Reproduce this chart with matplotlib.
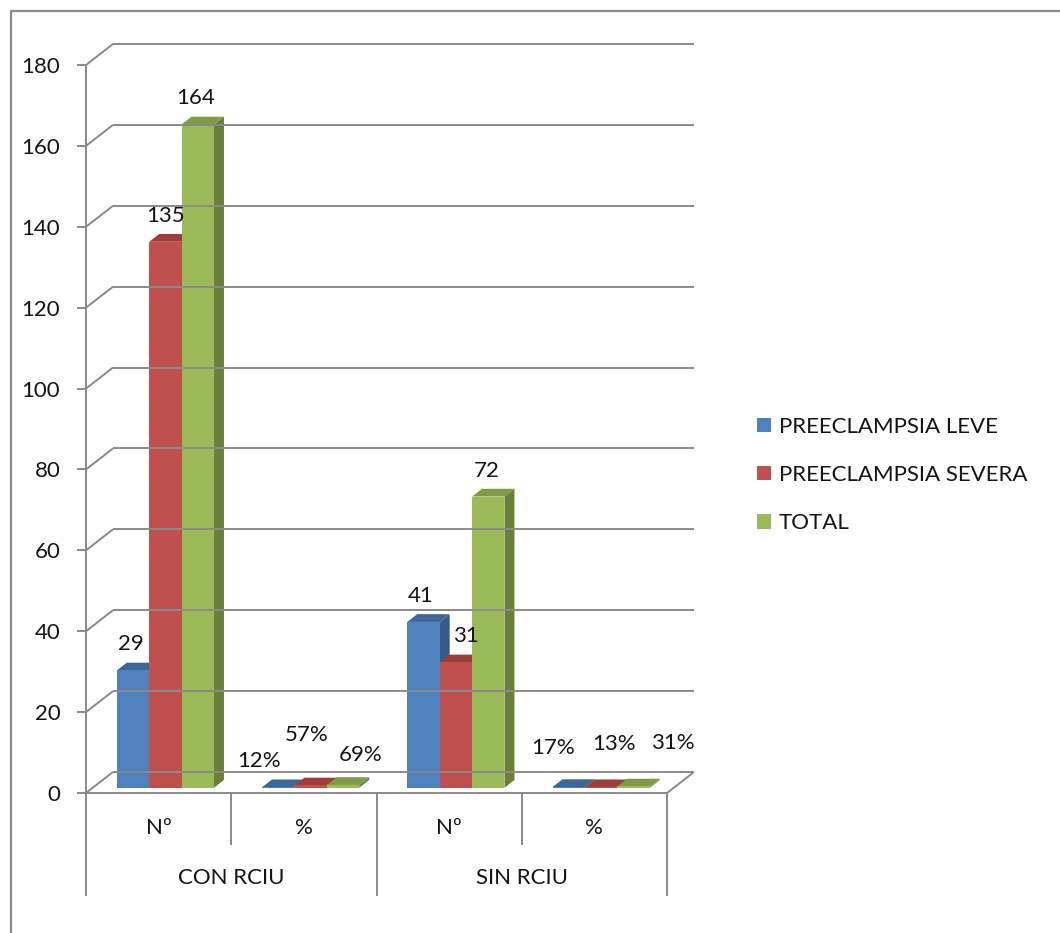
import matplotlib
matplotlib.use("Agg")
import matplotlib.pyplot as plt
from matplotlib.patches import Polygon, Patch
from matplotlib.lines import Line2D

# ---- data -------------------------------------------------------------
groups = ["CON RCIU", "SIN RCIU"]
measures = ["Nº", "%"]
series_names = ["PREECLAMPSIA LEVE", "PREECLAMPSIA SEVERA", "TOTAL"]
leve = [29, 0.12, 41, 0.17]
severa = [135, 0.57, 31, 0.13]
total = [164, 0.69, 72, 0.31]
y_ticks = [0, 20, 40, 60, 80, 100, 120, 140, 160, 180]

# ---- style ------------------------------------------------------------
FONT = ["Lato", "DejaVu Sans"]
FS = 16
TXT = "#141414"
GRID = "#8a8a8a"
front_cols = ["#4F81BD", "#C0504D", "#9BBB59"]
top_cols = ["#3E6799", "#9E3D3A", "#7E9C46"]
side_cols = ["#375C89", "#8A3835", "#68803A"]
plt.rcParams["font.family"] = FONT

W, H, DPI = 1060, 933, 100
fig = plt.figure(figsize=(W / DPI, H / DPI), dpi=DPI)

# front plane of the plot area, in pixels
X0, X1, Y0, Y180 = 86, 667, 793, 65
ax = fig.add_axes([X0 / W, 1 - Y0 / H, (X1 - X0) / W, (Y0 - Y180) / H])
n_cat = len(leve)
ax.set_xlim(0, n_cat)
ax.set_ylim(0, 180)

px_x = (X1 - X0) / n_cat      # pixels per category unit
px_v = (Y0 - Y180) / 180.0    # pixels per value unit
DEPTH_X, DEPTH_Y = 27, 21     # oblique depth of the plot box, pixels
KX, KV = DEPTH_X / px_x, DEPTH_Y / px_v


def proj(x, v, z):
    """Oblique projection of (category x, value v, depth z in 0..1)."""
    return (x + z * KX, v + z * KV)


def line3d(p, q, **kw):
    a, b = proj(*p), proj(*q)
    ax.plot([a[0], b[0]], [a[1], b[1]], color=GRID, lw=1.4,
            clip_on=False, solid_capstyle="butt", **kw)


# back wall gridlines and left wall diagonals
for t in y_ticks:
    line3d((0, t, 1), (n_cat, t, 1))
    line3d((0, t, 0), (0, t, 1))
# floor edges
line3d((n_cat, 0, 0), (n_cat, 0, 1))

# front value axis
ax.spines[["top", "right", "bottom"]].set_visible(False)
ax.spines["left"].set_color(GRID)
ax.spines["left"].set_linewidth(1.4)
ax.set_yticks(y_ticks)
ax.set_yticklabels([str(t) for t in y_ticks])
ax.tick_params(axis="y", length=6.5, width=1.4, color=GRID, pad=12,
               labelsize=FS, labelcolor=TXT)
ax.set_xticks([])
ax.patch.set_visible(False)

# category axis (front floor edge, separators and two label rows)
ax.plot([0, n_cat], [0, 0], color=GRID, lw=1.4, clip_on=False)
short_v, long_v = -52 / px_v, -103 / px_v
for i in range(n_cat + 1):
    bottom = long_v if i % len(measures) == 0 else short_v
    ax.plot([i, i], [0, bottom], color=GRID, lw=1.4, clip_on=False,
            solid_capstyle="butt")
for i in range(n_cat):
    ax.text(i + 0.5, -35 / px_v, measures[i % len(measures)],
            ha="center", va="center", fontsize=FS, color=TXT)
for g, name in enumerate(groups):
    ax.text(g * len(measures) + len(measures) / 2, -85 / px_v, name,
            ha="center", va="center", fontsize=FS, color=TXT)

# ---- 3-D columns --------------------------------------------------------
series = [leve, severa, total]
BAR_W = 32.4 / px_x
Z_FRONT, Z_BACK = 0.25, 0.62
label_nudge = [  # pixel nudges (dx, dy) of the value labels
    [(-2, 0), (0, 0), (-2, 0)],
    [(-19, 0), (-4, 24), (18, 4)],
    [(-3, 0), (10, 0), (-2, 0)],
    [(-16, 13), (13, 17), (39, 17)],
]
fmt = ["{:.0f}", "{:.0%}"]

for c in range(n_cat):
    left0 = c + 0.5 - 1.5 * BAR_W
    for s, vals in enumerate(series):
        v = vals[c]
        xl, xr = left0 + s * BAR_W, left0 + (s + 1) * BAR_W
        side = [proj(xr, 0, Z_FRONT), proj(xr, 0, Z_BACK),
                proj(xr, v, Z_BACK), proj(xr, v, Z_FRONT)]
        top = [proj(xl, v, Z_FRONT), proj(xr, v, Z_FRONT),
               proj(xr, v, Z_BACK), proj(xl, v, Z_BACK)]
        front = [proj(xl, 0, Z_FRONT), proj(xr, 0, Z_FRONT),
                 proj(xr, v, Z_FRONT), proj(xl, v, Z_FRONT)]
        ax.add_patch(Polygon(side, closed=True, fc=side_cols[s], ec="none",
                             clip_on=False))
        ax.add_patch(Polygon(top, closed=True, fc=top_cols[s], ec="none",
                             clip_on=False))
        ax.add_patch(Polygon(front, closed=True, fc=front_cols[s], ec="none",
                             clip_on=False))
        cx, cy = proj((xl + xr) / 2, v, Z_FRONT)
        dx, dy = label_nudge[c][s]
        ax.annotate(fmt[c % 2].format(v), (cx, cy), xytext=(dx / 1.389,
                    (26 + dy) / 1.389), textcoords="offset points",
                    ha="center", va="center", fontsize=FS, color=TXT,
                    annotation_clip=False)

# ---- legend -------------------------------------------------------------
handles = [Patch(facecolor=front_cols[i], edgecolor="none", label=n)
           for i, n in enumerate(series_names)]
fig.legend(handles=handles, loc="center left",
           bbox_to_anchor=(757 / W, 1 - 475 / H), frameon=False,
           fontsize=FS, handlelength=0.63, handleheight=0.63,
           handletextpad=0.36, labelspacing=1.27, borderpad=0,
           borderaxespad=0, labelcolor=TXT)

# outer chart border (top and left edges)
fig.add_artist(Line2D([11 / W, 11 / W, 1.0], [0.0, 1 - 11 / H, 1 - 11 / H],
                      transform=fig.transFigure, color="#8c8c8c", lw=1.6))

fig.savefig("out.png", dpi=DPI)
